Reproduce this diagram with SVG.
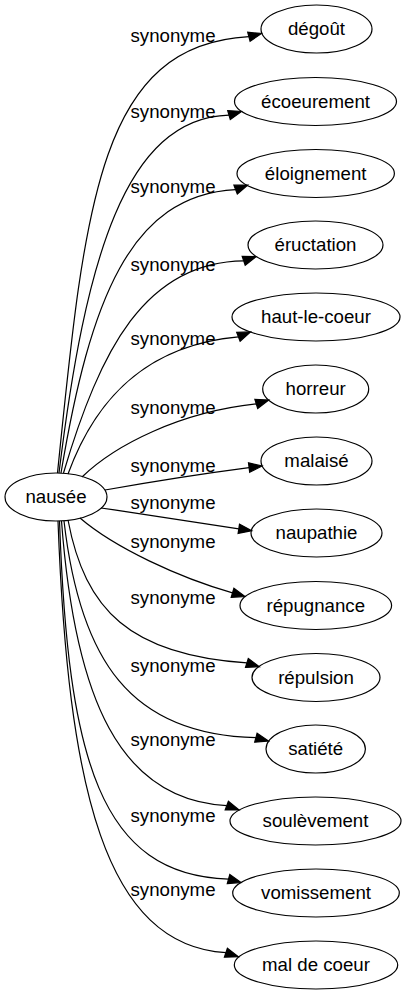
<svg xmlns="http://www.w3.org/2000/svg" width="406" height="995" viewBox="0 0 406 995">
<style>
.n ellipse{fill:none;stroke:#000;stroke-width:1.2}
.n text,.lbl text{font-family:"Liberation Sans",Arial,sans-serif;font-size:18.67px;fill:#000;text-anchor:middle}
.e path{fill:none;stroke:#000;stroke-width:1.2}
.e polygon{fill:#000;stroke:#000;stroke-width:1.2}
</style>
<rect width="406" height="995" fill="#fff"/>
<g id="connectors" class="e">
<path d="M57.5,473 C85,200 100,45 248.9,36.7"/><polygon points="250.1,41.3 261.5,33.5 247.7,32.2"/>
<path d="M59,473 C85,260 125,118 229,115.1"/><polygon points="230.3,119.6 241.5,111.5 227.7,110.6"/>
<path d="M61,473 C90,300 130,195 235.6,189.6"/><polygon points="237.3,194 247.7,185 233.9,185.2"/>
<path d="M63.5,473 C100,350 145,262 243.7,260.8"/><polygon points="245.2,265.3 256,256.7 242.2,256.3"/>
<path d="M68,474 C95,400 145,345 238.4,336.8"/><polygon points="240.1,341.2 250.5,332 236.7,332.4"/>
<path d="M82,477 C115,445 180,412 256.3,403.9"/><polygon points="257.7,408.4 268.7,400 254.9,399.4"/>
<path d="M105,490 C150,482 200,474 249.1,467.6"/><polygon points="249.7,472.3 262,466 248.5,462.9"/>
<path d="M101,508 C150,515 200,523 238.8,528.8"/><polygon points="238.1,533.4 251.7,530.7 239.5,524.1"/>
<path d="M80,518 C115,548 180,578 232.5,592.8"/><polygon points="231.2,597.3 245,596.5 233.9,588.3"/>
<path d="M68,520 C85,610 130,655 246.9,662.9"/><polygon points="245.5,667.4 259.3,666.7 248.3,658.4"/>
<path d="M64,521 C80,660 130,735 255.9,737.7"/><polygon points="254.7,742.2 268.5,741 257.1,733.2"/>
<path d="M61.5,521 C75,700 120,800 226.8,805.6"/><polygon points="225.2,810 239,810 228.4,801.2"/>
<path d="M59.5,521 C68,760 100,875 228.5,879.1"/><polygon points="227.3,883.6 241,882.5 229.8,874.6"/>
<path d="M58,521 C68,790 105,945 225.9,952.7"/><polygon points="224.4,957.2 238.3,956.7 227.4,948.2"/>
</g>
<g id="edge-labels" class="lbl">
<text x="173" y="42">synonyme</text>
<text x="173" y="118">synonyme</text>
<text x="173" y="193">synonyme</text>
<text x="173" y="271">synonyme</text>
<text x="173" y="345">synonyme</text>
<text x="173" y="414">synonyme</text>
<text x="173" y="471.5">synonyme</text>
<text x="173" y="509">synonyme</text>
<text x="173" y="548">synonyme</text>
<text x="173" y="604">synonyme</text>
<text x="173" y="672">synonyme</text>
<text x="173" y="746">synonyme</text>
<text x="173" y="822">synonyme</text>
<text x="173" y="896">synonyme</text>
</g>
<g id="nausee" class="n"><ellipse cx="56" cy="497" rx="51" ry="24"/><text x="56" y="503">nausée</text></g>
<g id="degout" class="n"><ellipse cx="316.5" cy="29" rx="55.5" ry="24"/><text x="316.5" y="35">dégoût</text></g>
<g id="ecoeurement" class="n"><ellipse cx="315.5" cy="101.5" rx="81" ry="24"/><text x="315.5" y="107.5">écoeurement</text></g>
<g id="eloignement" class="n"><ellipse cx="315.7" cy="173.5" rx="78.7" ry="24"/><text x="315.7" y="179.5">éloignement</text></g>
<g id="eructation" class="n"><ellipse cx="315.5" cy="245" rx="67.5" ry="24"/><text x="315.5" y="251">éructation</text></g>
<g id="haut-le-coeur" class="n"><ellipse cx="316" cy="317" rx="84" ry="24"/><text x="316" y="323">haut-le-coeur</text></g>
<g id="horreur" class="n"><ellipse cx="315.7" cy="389" rx="53" ry="24"/><text x="315.7" y="395">horreur</text></g>
<g id="malaise" class="n"><ellipse cx="316.5" cy="461" rx="55.5" ry="24"/><text x="316.5" y="467">malaisé</text></g>
<g id="naupathie" class="n"><ellipse cx="316.5" cy="533" rx="65.5" ry="24"/><text x="316.5" y="539">naupathie</text></g>
<g id="repugnance" class="n"><ellipse cx="315.8" cy="605.5" rx="75.8" ry="24"/><text x="315.8" y="611.5">répugnance</text></g>
<g id="repulsion" class="n"><ellipse cx="316" cy="677.5" rx="64" ry="24"/><text x="316" y="683.5">répulsion</text></g>
<g id="satiete" class="n"><ellipse cx="315.7" cy="749" rx="49.7" ry="24"/><text x="315.7" y="755">satiété</text></g>
<g id="soulevement" class="n"><ellipse cx="315.5" cy="821" rx="85.5" ry="24"/><text x="315.5" y="827">soulèvement</text></g>
<g id="vomissement" class="n"><ellipse cx="316" cy="893" rx="83.3" ry="24"/><text x="316" y="899">vomissement</text></g>
<g id="mal-de-coeur" class="n"><ellipse cx="316" cy="965" rx="81.7" ry="24"/><text x="316" y="971">mal de coeur</text></g>
</svg>
